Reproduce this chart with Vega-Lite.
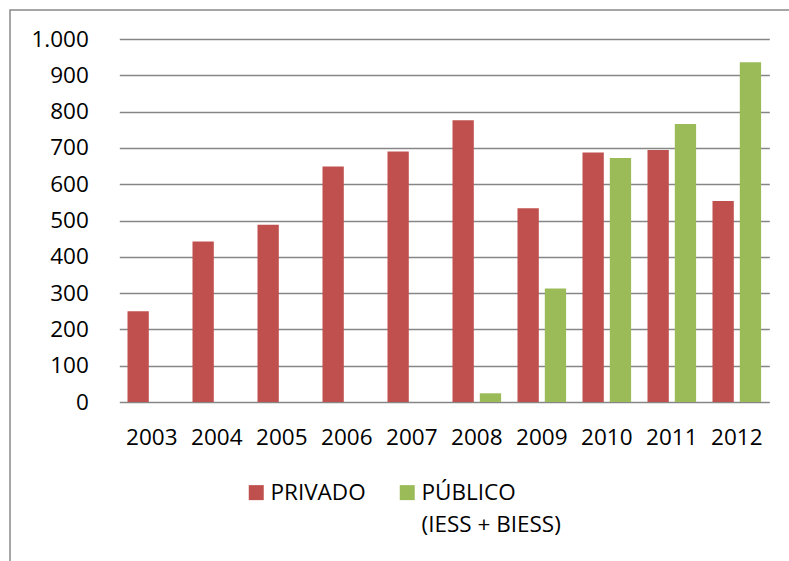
{
  "$schema": "https://vega.github.io/schema/vega-lite/v6.json",
  "autosize": {"type": "none"},
  "padding": {"left": 10, "top": 10, "right": 0, "bottom": 0},
  "width": 800,
  "height": 560,
  "background": "white",
  "data": {
    "values": [
      {"anio": "2003", "serie": "PRIVADO", "valor": 250},
      {"anio": "2004", "serie": "PRIVADO", "valor": 442},
      {"anio": "2005", "serie": "PRIVADO", "valor": 488},
      {"anio": "2006", "serie": "PRIVADO", "valor": 649},
      {"anio": "2007", "serie": "PRIVADO", "valor": 690},
      {"anio": "2008", "serie": "PRIVADO", "valor": 776},
      {"anio": "2009", "serie": "PRIVADO", "valor": 534},
      {"anio": "2010", "serie": "PRIVADO", "valor": 687},
      {"anio": "2011", "serie": "PRIVADO", "valor": 694},
      {"anio": "2012", "serie": "PRIVADO", "valor": 554},
      {"anio": "2008", "serie": "PÚBLICO (IESS + BIESS)", "valor": 24},
      {"anio": "2009", "serie": "PÚBLICO (IESS + BIESS)", "valor": 313},
      {"anio": "2010", "serie": "PÚBLICO (IESS + BIESS)", "valor": 672},
      {"anio": "2011", "serie": "PÚBLICO (IESS + BIESS)", "valor": 766},
      {"anio": "2012", "serie": "PÚBLICO (IESS + BIESS)", "valor": 936}
    ]
  },
  "mark": {"type": "bar"},
  "encoding": {
    "x": {
      "field": "anio",
      "type": "nominal",
      "sort": null,
      "scale": {"range": [109.3, 759.3], "paddingInner": 0, "paddingOuter": 0},
      "axis": {
        "title": null,
        "orient": "bottom",
        "offset": -168,
        "domain": false,
        "ticks": false,
        "grid": false,
        "labelAngle": 0,
        "labelPadding": 24,
        "labelFont": "Open Sans",
        "labelFontSize": 22.5,
        "labelColor": "#000000"
      }
    },
    "xOffset": {
      "field": "serie",
      "type": "nominal",
      "scale": {"domain": ["PRIVADO", "PÚBLICO (IESS + BIESS)"], "paddingInner": 0.22, "paddingOuter": 0.3}
    },
    "y": {
      "field": "valor",
      "type": "quantitative",
      "scale": {"domain": [0, 1000], "range": [392, 29], "nice": false},
      "axis": {
        "title": null,
        "orient": "left",
        "offset": -109.3,
        "values": [0, 100, 200, 300, 400, 500, 600, 700, 800, 900, 1000],
        "domain": false,
        "ticks": false,
        "grid": true,
        "gridColor": "#868686",
        "gridWidth": 1.4,
        "gridOpacity": 1,
        "labelPadding": 31,
        "labelFont": "Open Sans",
        "labelFontSize": 22.5,
        "labelColor": "#000000",
        "labelExpr": "replace(format(datum.value, ','), ',', '.')"
      }
    },
    "color": {
      "field": "serie",
      "type": "nominal",
      "scale": {"domain": ["PRIVADO", "PÚBLICO (IESS + BIESS)"], "range": ["#C0504D", "#9BBB59"]},
      "legend": {
        "title": null,
        "orient": "none",
        "direction": "horizontal",
        "legendX": 235,
        "legendY": 471,
        "padding": 0,
        "columnPadding": 30,
        "symbolType": "square",
        "symbolSize": 225,
        "symbolStrokeWidth": 0,
        "symbolOpacity": 1,
        "labelOffset": 3,
        "labelFont": "Open Sans",
        "labelFontSize": 22.5,
        "labelColor": "#000000",
        "labelBaseline": "middle",
        "labelLimit": 400,
        "labelExpr": "datum.label == 'PRIVADO' ? ['PRIVADO', '\u00a0'] : ['PÚBLICO', '\u00a0\u00a0(IESS + BIESS)']"
      }
    }
  },
  "config": {
    "view": {"stroke": "#898989", "strokeWidth": 1.5},
    "style": {"guide-label": {"lineHeight": 32.5}}
  }
}
